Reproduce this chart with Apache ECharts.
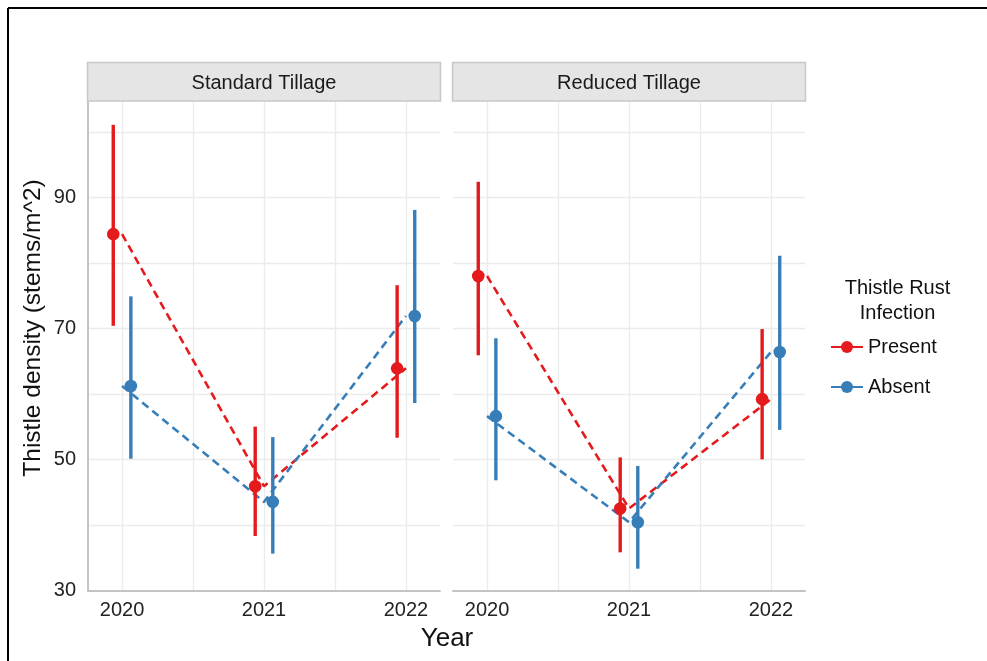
<!DOCTYPE html>
<html>
<head>
<meta charset="utf-8">
<script src="https://cdn.jsdelivr.net/npm/echarts@6/dist/echarts.min.js"></script>
<style>
html,body{margin:0;padding:0;background:#fff;}
#chart{width:987px;height:661px;}
</style>
</head>
<body>
<div id="chart"></div>
<script>
// ---- data ----
var years = [2020, 2021, 2022];
var panels = ['Standard Tillage', 'Reduced Tillage'];
var groups = ['Present', 'Absent'];
var groupColors = ['#E41A1C', '#377EB8'];
var yTickLabels = [30, 50, 70, 90];

// Standard Tillage
var stdPresentMean = [84.4, 45.9, 63.9];
var stdPresentLo   = [70.4, 38.3, 53.3];
var stdPresentHi   = [101.1, 55.0, 76.6];
var stdAbsentMean  = [61.2, 43.5, 71.9];
var stdAbsentLo    = [50.1, 35.6, 58.6];
var stdAbsentHi    = [74.9, 53.4, 88.1];
// Reduced Tillage
var redPresentMean = [78.0, 42.5, 59.2];
var redPresentLo   = [65.9, 35.8, 50.0];
var redPresentHi   = [92.4, 50.3, 69.9];
var redAbsentMean  = [56.6, 40.4, 66.4];
var redAbsentLo    = [46.8, 33.3, 54.5];
var redAbsentHi    = [68.5, 49.0, 81.1];

var panelData = [
  [[stdPresentMean, stdPresentLo, stdPresentHi], [stdAbsentMean, stdAbsentLo, stdAbsentHi]],
  [[redPresentMean, redPresentLo, redPresentHi], [redAbsentMean, redAbsentLo, redAbsentHi]]
];
var dodge = [-0.062, 0.062];

// ---- layout ----
var FONT = 'Arial, "Liberation Sans", sans-serif';
var gridLeft = [88, 453];
var gridW = 352;
var gridTop = 101.7;
var gridH = 488.6;

var chart = echarts.init(document.getElementById('chart'), null, {renderer: 'canvas'});

var grids = [], xAxes = [], yAxes = [], series = [];
for (var p = 0; p < 2; p++) {
  grids.push({left: gridLeft[p], top: gridTop, width: gridW, height: gridH, containLabel: false});
  xAxes.push({
    type: 'value', gridIndex: p, min: 2019.76, max: 2022.24,
    axisLine: {show: true, lineStyle: {color: '#c4c4c4', width: 2}},
    axisTick: {show: false},
    splitLine: {show: true, showMinLine: false, showMaxLine: false, lineStyle: {color: '#ebebeb', width: 1.3}},
    axisLabel: {
      show: true, color: '#222', fontSize: 20, fontFamily: FONT, margin: 10,
      showMinLabel: false, showMaxLabel: false,
      formatter: function (v) { return years.indexOf(Math.round(v * 1000) / 1000) >= 0 ? String(Math.round(v)) : ''; }
    }
  });
  yAxes.push({
    type: 'value', gridIndex: p, min: 30, max: 104.63, interval: 10,
    axisLine: {show: p === 0, lineStyle: {color: '#c4c4c4', width: 2}},
    axisTick: {show: false},
    splitLine: {show: true, showMaxLine: false, showMinLine: false, lineStyle: {color: '#ebebeb', width: 1.3}},
    axisLabel: {
      show: p === 0, color: '#222', fontSize: 20, fontFamily: FONT, margin: 12,
      formatter: function (v) { return yTickLabels.indexOf(v) >= 0 ? String(v) : ''; }
    }
  });

  // dashed mean lines (undodged)
  for (var g = 0; g < 2; g++) {
    series.push({
      type: 'line', xAxisIndex: p, yAxisIndex: p, silent: true,
      data: years.map(function (y, i) { return [y, panelData[p][g][0][i]]; }),
      symbol: 'none',
      lineStyle: {color: groupColors[g], width: 2.6, type: [8, 5]},
      z: 2
    });
  }
  // point ranges (dodged)
  for (var g2 = 0; g2 < 2; g2++) {
    (function (pp, gg) {
      var d = panelData[pp][gg];
      series.push({
        type: 'custom', xAxisIndex: pp, yAxisIndex: pp, silent: true,
        data: years.map(function (y, i) { return [y + dodge[gg], d[0][i], d[1][i], d[2][i]]; }),
        encode: {x: 0, y: [1, 2, 3]},
        renderItem: function (params, api) {
          var x = api.value(0);
          var pm = api.coord([x, api.value(1)]);
          var pl = api.coord([x, api.value(2)]);
          var ph = api.coord([x, api.value(3)]);
          return {
            type: 'group',
            children: [
              {type: 'line', shape: {x1: pl[0], y1: pl[1], x2: ph[0], y2: ph[1]},
               style: {stroke: groupColors[gg], lineWidth: 3.4}},
              {type: 'circle', shape: {cx: pm[0], cy: pm[1], r: 6.3},
               style: {fill: groupColors[gg]}}
            ]
          };
        },
        z: 3 + gg
      });
    })(p, g2);
  }
}

// legend dummy series
for (var k = 0; k < 2; k++) {
  series.push({
    type: 'line', name: groups[k], xAxisIndex: 0, yAxisIndex: 0, data: [],
    symbol: 'circle', itemStyle: {color: groupColors[k]},
    lineStyle: {color: groupColors[k], width: 3.4}
  });
}

var graphics = [
  // outer frame
  {type: 'line', shape: {x1: 8, y1: 8, x2: 987, y2: 8}, style: {stroke: '#000', lineWidth: 2}},
  {type: 'line', shape: {x1: 8, y1: 8, x2: 8, y2: 661}, style: {stroke: '#000', lineWidth: 2}},
  // x axis title
  {type: 'text', style: {text: 'Year', x: 447, y: 639, textAlign: 'center', textVerticalAlign: 'middle',
           fill: '#111', font: '26px ' + FONT}},
  // y axis title (centred on panels + strips)
  {type: 'text', x: 33, y: 328, rotation: Math.PI / 2,
   style: {text: 'Thistle density (stems/m^2)', x: 0, y: 0, textAlign: 'center', textVerticalAlign: 'middle',
           fill: '#111', font: '24.5px ' + FONT}},
  // legend title
  {type: 'text', style: {text: 'Thistle Rust\nInfection', x: 897.5, y: 301, textAlign: 'center', textVerticalAlign: 'middle',
           fill: '#111', font: '20px ' + FONT, lineHeight: 24.5}}
];
for (var s = 0; s < 2; s++) {
  graphics.push({type: 'rect', shape: {x: gridLeft[s] - 0.5, y: 62.5, width: gridW + 1, height: 38.5},
                 style: {fill: '#e5e5e5', stroke: '#c8c8c8', lineWidth: 1.5}, z: 1});
  graphics.push({type: 'text', style: {text: panels[s], x: gridLeft[s] + gridW / 2, y: 83, textAlign: 'center', textVerticalAlign: 'middle',
                 fill: '#1a1a1a', font: '20px ' + FONT}, z: 2});
}

chart.setOption({
  animation: false,
  backgroundColor: '#fff',
  grid: grids,
  xAxis: xAxes,
  yAxis: yAxes,
  legend: {
    data: groups, orient: 'vertical', left: 825, top: 332,
    itemWidth: 32, itemHeight: 15, itemGap: 20,
    textStyle: {color: '#111', fontSize: 20, fontFamily: FONT},
    selectedMode: false
  },
  graphic: graphics,
  series: series
});
</script>
</body>
</html>
